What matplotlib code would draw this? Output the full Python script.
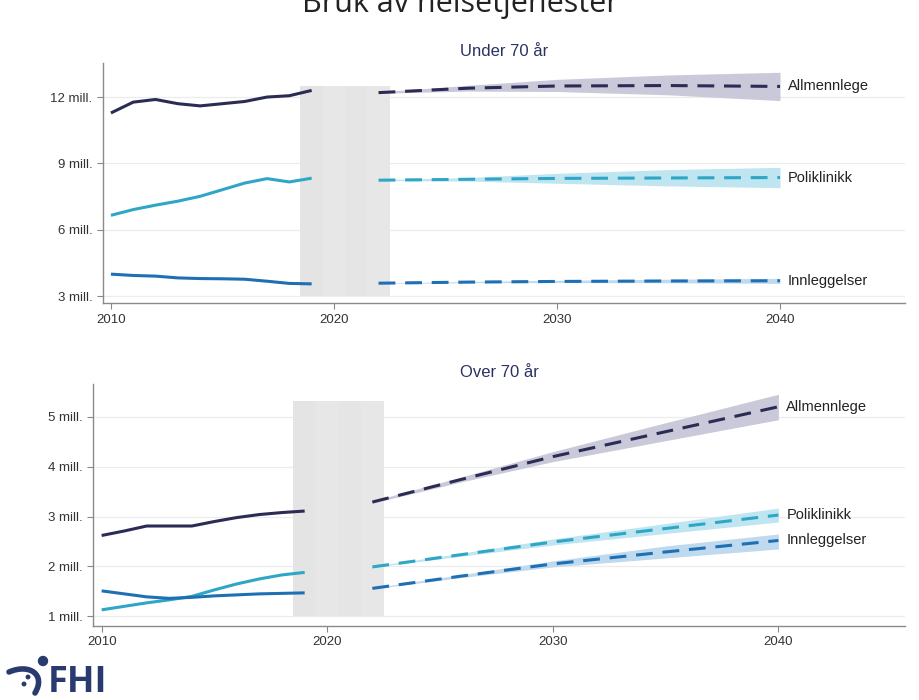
import numpy as np
import matplotlib.pyplot as plt
from matplotlib.patches import Ellipse, PathPatch
from matplotlib.path import Path

plt.rcParams['font.family'] = ['Liberation Sans', 'DejaVu Sans']

# Historiske data (mill.)
hist_years = [2010, 2011, 2012, 2013, 2014, 2015, 2016, 2017, 2018, 2019]
u70_allmenn = [11.28, 11.77, 11.89, 11.70, 11.60, 11.70, 11.80, 12.00, 12.06, 12.30]
u70_poli = [6.65, 6.91, 7.11, 7.29, 7.51, 7.81, 8.11, 8.31, 8.16, 8.33]
u70_innl = [3.99, 3.93, 3.90, 3.82, 3.79, 3.78, 3.76, 3.67, 3.57, 3.55]

o70_allmenn = [2.62, 2.71, 2.81, 2.81, 2.81, 2.90, 2.98, 3.04, 3.08, 3.11]
o70_poli = [1.13, 1.20, 1.27, 1.33, 1.40, 1.53, 1.65, 1.75, 1.83, 1.88]
o70_innl = [1.51, 1.45, 1.39, 1.36, 1.38, 1.41, 1.43, 1.45, 1.46, 1.47]

# Framskrivinger (mill.) med usikkerhetsintervall
fc_years = [2022, 2026, 2030, 2035, 2040]
u70_allmenn_fc = [12.20, 12.40, 12.50, 12.52, 12.48]
u70_allmenn_lo = [12.17, 12.27, 12.25, 12.10, 11.84]
u70_allmenn_hi = [12.23, 12.53, 12.80, 13.00, 13.12]
u70_poli_fc = [8.24, 8.28, 8.32, 8.34, 8.36]
u70_poli_lo = [8.22, 8.20, 8.10, 7.98, 7.90]
u70_poli_hi = [8.26, 8.36, 8.55, 8.72, 8.82]
u70_innl_fc = [3.58, 3.63, 3.66, 3.68, 3.69]
u70_innl_lo = [3.57, 3.60, 3.61, 3.60, 3.57]
u70_innl_hi = [3.59, 3.66, 3.71, 3.76, 3.80]

o70_allmenn_fc = [3.29, 3.75, 4.20, 4.70, 5.20]
o70_allmenn_lo = [3.27, 3.70, 4.10, 4.52, 4.94]
o70_allmenn_hi = [3.31, 3.80, 4.30, 4.88, 5.45]
o70_poli_fc = [1.99, 2.24, 2.49, 2.76, 3.03]
o70_poli_lo = [1.98, 2.21, 2.43, 2.66, 2.89]
o70_poli_hi = [2.00, 2.27, 2.55, 2.86, 3.17]
o70_innl_fc = [1.56, 1.81, 2.05, 2.29, 2.52]
o70_innl_lo = [1.55, 1.78, 1.99, 2.17, 2.35]
o70_innl_hi = [1.57, 1.84, 2.11, 2.41, 2.65]

labels = ['Allmennlege', 'Poliklinikk', 'Innleggelser']
line_colors = ['#2b2b55', '#2fa6c6', '#1f6fb4']
band_colors = ['#c9c9da', '#bfe5f1', '#bfdaee']

panels = [
    {
        'title': 'Under 70 år',
        'rect': [0.1116, 0.567, 0.872, 0.343],
        'hist': [u70_allmenn, u70_poli, u70_innl],
        'fc': [u70_allmenn_fc, u70_poli_fc, u70_innl_fc],
        'lo': [u70_allmenn_lo, u70_poli_lo, u70_innl_lo],
        'hi': [u70_allmenn_hi, u70_poli_hi, u70_innl_hi],
        'yticks': [3, 6, 9, 12],
        'ylim': (2.68, 13.54),
        'gap': (3.0, 12.5),
    },
    {
        'title': 'Over 70 år',
        'rect': [0.1014, 0.106, 0.882, 0.345],
        'hist': [o70_allmenn, o70_poli, o70_innl],
        'fc': [o70_allmenn_fc, o70_poli_fc, o70_innl_fc],
        'lo': [o70_allmenn_lo, o70_poli_lo, o70_innl_lo],
        'hi': [o70_allmenn_hi, o70_poli_hi, o70_innl_hi],
        'yticks': [1, 2, 3, 4, 5],
        'ylim': (0.81, 5.65),
        'gap': (1.0, 5.31),
    },
]

fig = plt.figure(figsize=(9.2, 7.0), dpi=100)

# tittel, delvis avkuttet i toppen som i originalen
fig.text(0.5, 1 - 12 / 700, 'Bruk av helsetjenester', ha='center', va='baseline',
         fontsize=22, family=['Open Sans', 'DejaVu Sans'], color='#222222')

for p in panels:
    ax = fig.add_axes(p['rect'])
    ax.set_xlim(2009.63, 2045.6)
    ax.set_ylim(*p['ylim'])

    # grå periode (pandemi-gap), svake striper
    shades = ['#e4e4e4', '#e7e7e7', '#e5e5e5', '#e7e7e7']
    for i, c in enumerate(shades):
        ax.fill_between([2018.5 + i, 2019.5 + i], p['gap'][0], p['gap'][1],
                        color=c, lw=0, zorder=1)

    for k in range(3):
        ax.fill_between(fc_years, p['lo'][k], p['hi'][k], color=band_colors[k],
                        lw=0, zorder=2)
        ax.plot(hist_years, p['hist'][k], color=line_colors[k], lw=2.2,
                solid_capstyle='butt', zorder=3)
        ax.plot(fc_years, p['fc'][k], color=line_colors[k], lw=2.2,
                dashes=(5.5, 3.2), zorder=3)
        ax.text(2040.35, p['fc'][k][-1], labels[k], fontsize=10.5, color='#222222',
                va='center', ha='left', zorder=4)

    ax.set_yticks(p['yticks'])
    ax.set_yticklabels([f'{v} mill.' for v in p['yticks']])
    ax.set_xticks([2010, 2020, 2030, 2040])
    ax.tick_params(axis='both', labelsize=9.5, colors='#333333', length=4,
                   width=0.8, direction='out')
    ax.tick_params(axis='both', color='#888888')
    ax.grid(axis='y', color='#ececec', lw=0.9, zorder=0)
    ax.set_axisbelow(True)
    for s in ['top', 'right']:
        ax.spines[s].set_visible(False)
    for s in ['left', 'bottom']:
        ax.spines[s].set_color('#8a8a8a')
        ax.spines[s].set_linewidth(1.0)
    ax.set_title(p['title'], fontsize=12, color='#2b3262', pad=5)

# FHI-logo (enkel etterligning)
logo_color = '#283a6e'
W, H = 920.0, 700.0
fig.text(48 / W, 1 - 692 / H, 'FHI', fontsize=26, fontweight='bold', color=logo_color,
         family=['Open Sans', 'DejaVu Sans'], ha='left', va='baseline')
hook = Path([(9 / W, 1 - 672 / H), (30 / W, 1 - 663 / H), (46 / W, 1 - 675 / H),
             (35 / W, 1 - 693 / H)],
            [Path.MOVETO, Path.CURVE4, Path.CURVE4, Path.CURVE4])
fig.patches.append(PathPatch(hook, transform=fig.transFigure, fill=False,
                             edgecolor=logo_color, lw=4, capstyle='round'))
fig.patches.append(Ellipse((43 / W, 1 - 661 / H), 9 / W, 9 / H,
                           transform=fig.transFigure, color=logo_color))
fig.patches.append(Ellipse((28 / W, 1 - 677 / H), 3.5 / W, 3.5 / H,
                           transform=fig.transFigure, color=logo_color))
fig.patches.append(Ellipse((24 / W, 1 - 684 / H), 3.5 / W, 3.5 / H,
                           transform=fig.transFigure, color=logo_color))

plt.savefig('out.png', dpi=100, facecolor='white')
